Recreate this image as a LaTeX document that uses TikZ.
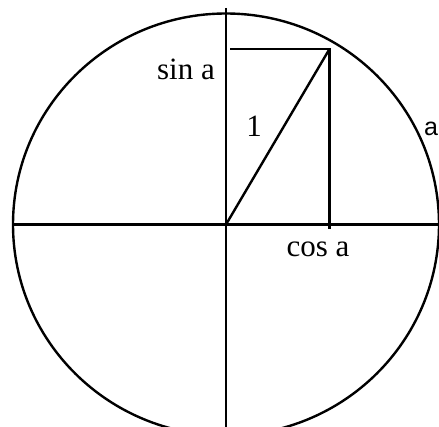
\documentclass[tikz,border=0pt]{standalone}
\usepackage{fontspec}
\setmainfont{Liberation Serif}
\newfontfamily\labelsans{Liberation Sans}
\usetikzlibrary{positioning}

\begin{document}
\begin{tikzpicture}[x=1pt,y=-1pt,
  ax/.style={draw=black,line width=2.4pt},
  lbl/.style={inner sep=0pt,font=\fontsize{31}{31}\selectfont}]
\useasboundingbox (0,0) rectangle (439,427);

\coordinate (O) at (226,224.5);
\coordinate (P) at (329.5,49);
\coordinate (xl) at (12,224.5);  \coordinate (xr) at (438,224.5);
\coordinate (yt) at (226,8);     \coordinate (yb) at (226,427);
\coordinate (sy) at (230,49);    \coordinate (cx) at (329.5,229);

\draw[ax] (O) ellipse [x radius=213,y radius=211];
\draw[ax] (xl) -- (xr);
\draw[ax] (yt) -- (yb);
\draw[ax] (sy) -- (P) -- (cx);
\draw[ax] (O) -- (P);

\node[lbl,anchor=base east] (sina) at (215,80) {sin a};
\node[lbl,anchor=base] (one) at (254,137) {1};
\node[lbl,anchor=base] (cosa) at (318,257) {cos a};
\node[lbl,anchor=base west,font=\labelsans\fontsize{25}{25}\selectfont] (arc) at (424,136) {a};
\end{tikzpicture}
\end{document}
